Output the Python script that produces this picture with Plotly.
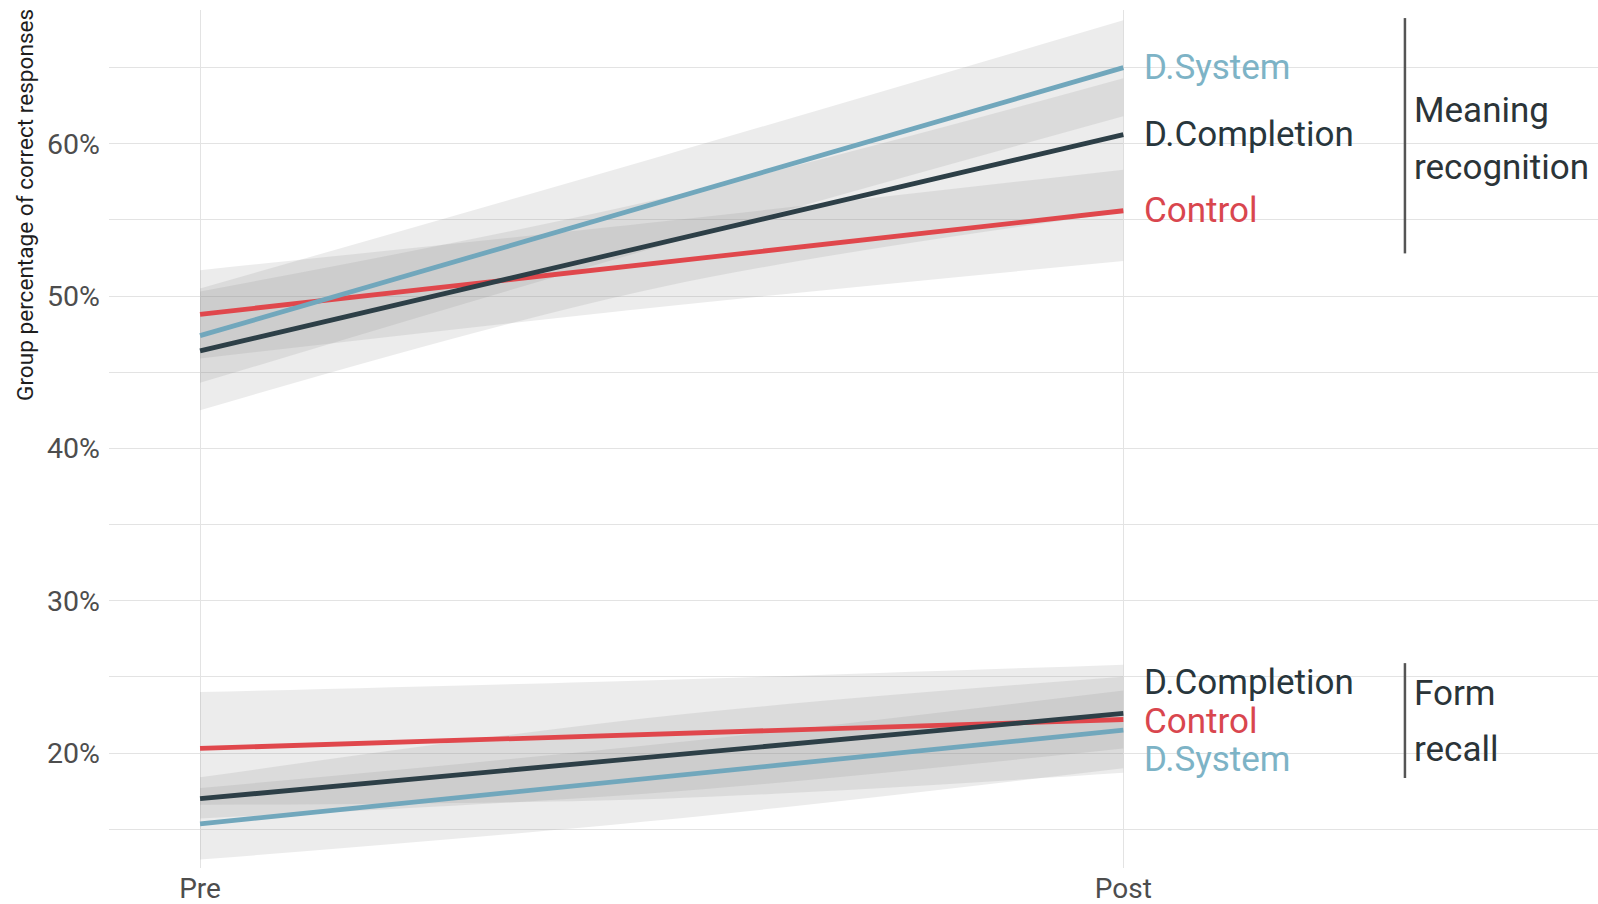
import plotly.graph_objects as go

# ---- data -------------------------------------------------------------
time_labels = ["Pre", "Post"]
time_pos = [0, 1]
band_pos = [0, 0.5, 1]          # Pre, midpoint, Post for the confidence ribbons

groups = ["D.System", "D.Completion", "Control"]

# Meaning recognition (% correct)
mr_line = {
    "D.System":     [47.4, 65.0],
    "D.Completion": [46.4, 60.6],
    "Control":      [48.8, 55.6],
}
mr_lo = {
    "D.System":     [44.3, 53.3, 61.8],
    "D.Completion": [42.5, 50.6, 55.5],
    "Control":      [45.9, 49.3, 52.3],
}
mr_hi = {
    "D.System":     [50.5, 59.2, 68.1],
    "D.Completion": [50.3, 56.4, 64.3],
    "Control":      [51.7, 54.9, 58.3],
}

# Form recall (% correct)
fr_line = {
    "D.System":     [15.35, 21.5],
    "D.Completion": [17.0, 22.6],
    "Control":      [20.3, 22.2],
}
fr_lo = {
    "D.System":     [13.0, 15.6, 19.0],
    "D.Completion": [15.7, 17.4, 20.3],
    "Control":      [16.6, 17.0, 18.7],
}
fr_hi = {
    "D.System":     [17.7, 20.6, 24.1],
    "D.Completion": [18.4, 22.4, 25.0],
    "Control":      [24.0, 24.8, 25.8],
}

y_ticks = [20, 30, 40, 50, 60]
y_minor = [15, 25, 35, 45, 55, 65]

# ---- styling ----------------------------------------------------------
line_col = {"D.System": "#71a7bc", "D.Completion": "#2d3f47", "Control": "#e0474c"}
text_col = {"D.System": "#7db3c6", "D.Completion": "#28363c", "Control": "#d9464e"}
band_fill = "rgba(128,128,128,0.15)"
grid_col = "#e3e3e3"
FONT = "Roboto"
LABEL_SIZE = 35


def spread(values, gap):
    """Push label positions apart so neighbours are at least `gap` apart."""
    order = sorted(range(len(values)), key=lambda i: values[i])
    pos = [values[i] for i in order]
    for _ in range(200):
        moved = False
        for k in range(1, len(pos)):
            d = pos[k] - pos[k - 1]
            if d < gap - 1e-9:
                s = (gap - d) / 2
                pos[k] += s
                pos[k - 1] -= s
                moved = True
        if not moved:
            break
    out = [0.0] * len(values)
    for k, i in enumerate(order):
        out[i] = pos[k]
    return out


fig = go.Figure()

# ribbons
for lo, hi in ((mr_lo, mr_hi), (fr_lo, fr_hi)):
    for g in groups:
        fig.add_trace(go.Scatter(x=band_pos, y=lo[g], mode="lines",
                                 line=dict(width=0, shape="spline", smoothing=1),
                                 hoverinfo="skip", showlegend=False))
        fig.add_trace(go.Scatter(x=band_pos, y=hi[g], mode="lines",
                                 line=dict(width=0, shape="spline", smoothing=1),
                                 fill="tonexty", fillcolor=band_fill,
                                 hoverinfo="skip", showlegend=False))

# trend lines
for lines in (mr_line, fr_line):
    for g in ["Control", "D.System", "D.Completion"]:
        fig.add_trace(go.Scatter(x=time_pos, y=lines[g], mode="lines",
                                 line=dict(color=line_col[g], width=4.8),
                                 name=g, showlegend=False))

annotations = []
# group labels at the Post end of each line (repelled where crowded)
for lines in (mr_line, fr_line):
    ends = [lines[g][-1] for g in groups]
    ys = spread(ends, 2.5)
    for g, y in zip(groups, ys):
        annotations.append(dict(x=1, y=y, xref="x", yref="y", text=g,
                                xanchor="left", yanchor="middle", xshift=19,
                                showarrow=False,
                                font=dict(family=FONT, size=LABEL_SIZE, color=text_col[g])))

# measure brackets
bracket_x = 1.305
brackets = [
    (68.25, 52.8, ["Meaning", "recognition"], 62.15, 58.45),
    (25.9, 18.36, ["Form", "recall"], 23.9, 20.2),
]
shapes = []
for top, bot, words, y1, y2 in brackets:
    shapes.append(dict(type="line", xref="x", yref="y", x0=bracket_x, x1=bracket_x,
                       y0=bot, y1=top, line=dict(color="#555555", width=2.5)))
    for w, yy in zip(words, (y1, y2)):
        annotations.append(dict(x=bracket_x, y=yy, xref="x", yref="y", text=w,
                                xanchor="left", yanchor="middle", xshift=7,
                                showarrow=False,
                                font=dict(family=FONT, size=LABEL_SIZE, color="#2b3438")))

# page geometry (pixels)
W, H = 1598, 904
ML, MR, MT, MB = 109, 0, 10, 36
pw, ph = W - ML - MR, H - MT - MB

# y-axis title, set near the top of the panel
annotations.append(dict(x=(25 - ML) / pw, y=1 - (205 - MT) / ph, xref="paper", yref="paper",
                        text="Group percentage of correct responses",
                        showarrow=False, textangle=-90, xanchor="center", yanchor="middle",
                        font=dict(family=FONT, size=22.6, color="#1e1e1e")))

fig.update_layout(
    width=W, height=H,
    margin=dict(l=ML, r=MR, t=MT, b=MB, pad=0),
    plot_bgcolor="white", paper_bgcolor="white",
    showlegend=False,
    annotations=annotations,
    shapes=shapes,
    xaxis=dict(range=[-0.0986, 1.5141], tickvals=time_pos, ticktext=time_labels,
               showgrid=True, gridcolor=grid_col, gridwidth=1.2, zeroline=False,
               showline=False, ticks="", ticklabelstandoff=1, automargin=False,
               tickfont=dict(family=FONT, size=28, color="#4d4d4d")),
    yaxis=dict(range=[12.45, 68.78], tickvals=y_ticks,
               ticktext=[f"{v}%" for v in y_ticks],
               showgrid=True, gridcolor=grid_col, gridwidth=1.2, zeroline=False,
               showline=False, ticks="", ticklabelstandoff=8, automargin=False,
               minor=dict(tickvals=y_minor, showgrid=True, gridcolor=grid_col, gridwidth=1),
               tickfont=dict(family=FONT, size=28.5, color="#4d4d4d")),
)

fig.write_html("out.html")
